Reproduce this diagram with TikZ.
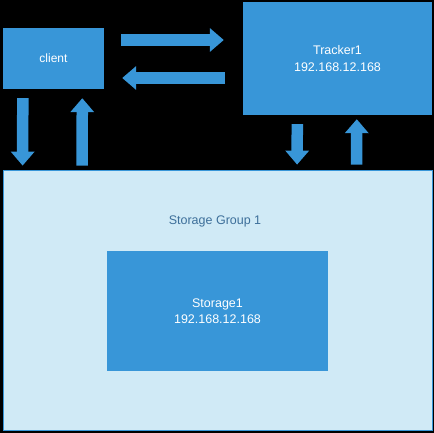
\documentclass[tikz,border=0pt]{standalone}
\usepackage{fontspec}
\setmainfont{Liberation Sans}
\usetikzlibrary{calc}
\usetikzlibrary{arrows.meta, positioning}

\definecolor{boxblue}{HTML}{3896D8}
\definecolor{groupfill}{HTML}{D0EAF6}
\definecolor{grouptext}{HTML}{3D6F9A}

\begin{document}
\begin{tikzpicture}[x=1pt,y=-1pt,
    every node/.style={rectangle,inner sep=0pt,align=center,text=white,
        font=\fontsize{12.5}{16.5}\selectfont},
    bluebox/.style={fill=boxblue},
    fatarrow/.style={draw=boxblue,line width=11.5pt,
        -{Triangle[width=23pt,length=14pt]}}]
    % 黑色背景
    \fill[black] (0,0) rectangle (434,433);
    % 画各个框框
    \node[bluebox,minimum width=101pt,minimum height=61pt,font=\fontsize{12}{14}\selectfont] (client) at (53.5,58.5) {client};
    \node[bluebox,minimum width=189pt,minimum height=113pt] (tracker) at (337.5,58.5) {Tracker1\\192.168.12.168};
    \node[fill=groupfill,draw=boxblue,line width=0.8pt,minimum width=429pt,minimum height=260pt] (group) at (217.5,300) {};
    \node[text=grouptext] (grouplabel) at (215,221) {Storage Group 1};
    \node[bluebox,minimum width=221pt,minimum height=120pt] (storage) at (217.5,311) {Storage1\\192.168.12.168};
    % client与Tracker之间的箭头
    \draw[fatarrow] ($(client.east)+(17,-18.5)$) -- ($(tracker.west)+(-19,-18.5)$);
    \draw[fatarrow] ($(tracker.west)+(-18,19.5)$) -- ($(client.east)+(18,19.5)$);
    % 上下箭头
    \draw[fatarrow] ($(client.south west)+(20,9)$) -- ($(group.north west)+(20,-4)$);
    \draw[fatarrow] ($(group.north west)+(79.5,-4)$) -- ($(client.south west)+(79.5,9)$);
    \draw[fatarrow] ($(tracker.south west)+(54.5,9)$) -- ($(group.north west)+(294.5,-5)$);
    \draw[fatarrow] ($(group.north west)+(354,-5)$) -- ($(tracker.south west)+(114,4)$);
\end{tikzpicture}
\end{document}
